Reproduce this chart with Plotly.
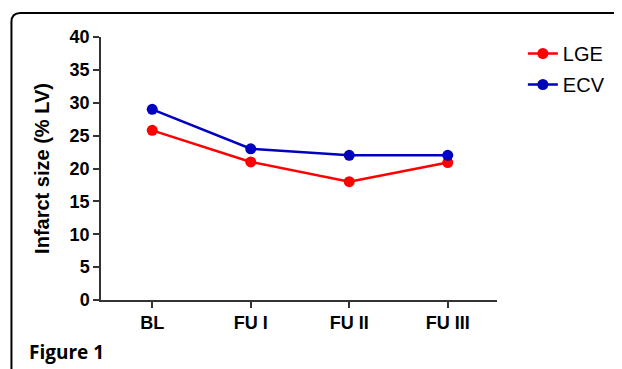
import plotly.graph_objects as go

categories = ["BL", "FU I", "FU II", "FU III"]
lge_values = [25.8, 21.0, 18.0, 20.9]
ecv_values = [29.0, 23.0, 22.0, 22.0]
y_ticks = [0, 5, 10, 15, 20, 25, 30, 35, 40]

FONT = "Liberation Sans"
OFF = 8  # page body margin
W, H = 622 - OFF, 369 - OFF
L, R, T, B = 101 - OFF, 622 - 499, 37 - OFF, 369 - 300
PW, PH = W - L - R, H - T - B

def px(x):
    return (x - OFF - L) / PW

def py(y):
    return (T + PH - (y - OFF)) / PH

fig = go.Figure()
fig.add_trace(go.Scatter(x=categories, y=lge_values, name="LGE", mode="lines+markers",
                         line=dict(color="#ff0000", width=2.5),
                         marker=dict(color="#ff0000", size=11), cliponaxis=False,
                         legendgroup="a"))
fig.add_trace(go.Scatter(x=categories, y=ecv_values, name="ECV", mode="lines+markers",
                         line=dict(color="#0000c0", width=2.5),
                         marker=dict(color="#0000c0", size=11), cliponaxis=False,
                         legendgroup="b"))

# rounded frame
x0, y0, x1, y1, r = 11, 13, 640, 372, 9
path = (f"M {px(x0)},{py(y1)} L {px(x0)},{py(y0 + r)} "
        f"Q {px(x0)},{py(y0)} {px(x0 + r)},{py(y0)} L {px(x1)},{py(y0)}")
fig.add_shape(type="path", xref="paper", yref="paper", path=path,
              line=dict(color="black", width=2))

fig.add_annotation(x=px(27), y=py(352), xref="paper", yref="paper",
                   xanchor="left", yanchor="middle", showarrow=False,
                   text="<b>Figure 1</b>",
                   font=dict(family="Open Sans", size=19, color="black"))

fig.update_layout(
    width=W, height=H,
    margin=dict(l=L, r=R, t=T, b=B, pad=0),
    paper_bgcolor="white", plot_bgcolor="white",
    font=dict(family=FONT, color="black"),
    showlegend=True,
    legend=dict(x=px(525), y=py(34), xanchor="left", yanchor="top",
                font=dict(size=20, family=FONT, color="black"),
                borderwidth=0,
                traceorder="grouped", tracegroupgap=2, bgcolor="rgba(0,0,0,0)"),
    xaxis=dict(type="category", range=[-0.52, 3.5], showgrid=False, zeroline=False,
               showline=True, linecolor="#333", linewidth=1.5,
               ticks="outside", ticklen=6, tickwidth=1.5, tickcolor="#333",
               tickfont=dict(size=18, family=FONT, color="black"),
               tickvals=categories, ticktext=[f"<b>{c}</b>" for c in categories]),
    yaxis=dict(range=[0, 40], showgrid=False, zeroline=False,
               showline=True, linecolor="#333", linewidth=1.5,
               ticks="outside", ticklen=6, tickwidth=1.5, tickcolor="#333",
               tickvals=y_ticks, ticktext=[f"<b>{v}</b>" for v in y_ticks],
               tickfont=dict(size=18, family=FONT, color="black"),
               title=dict(text="<b>Infarct size (% LV)</b>", standoff=15,
                          font=dict(size=20, family=FONT, color="black"))),
)

fig.write_html("out.html")
